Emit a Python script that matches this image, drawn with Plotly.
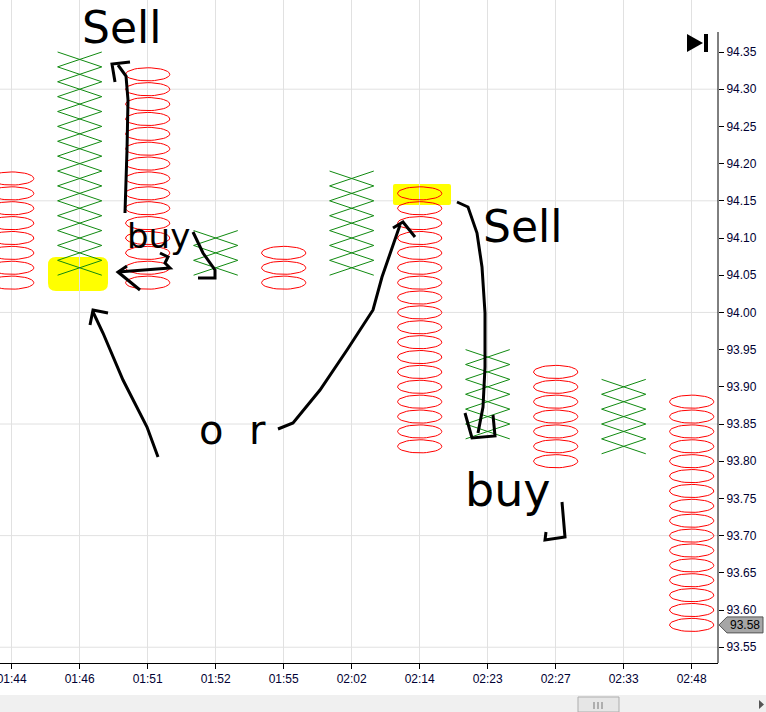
import numpy as np
import plotly.graph_objects as go

# ---------------- data ----------------
columns = ["01:44", "01:46", "01:51", "01:52", "01:55", "02:02",
           "02:14", "02:23", "02:27", "02:33", "02:48"]
col_type = ["O", "X", "O", "X", "O", "X", "O", "X", "O", "X", "O"]
col_high = [94.18, 94.34, 94.32, 94.10, 94.08, 94.18, 94.16, 93.94, 93.92, 93.90, 93.88]
col_low = [94.04, 94.06, 94.04, 94.06, 94.04, 94.06, 93.82, 93.84, 93.80, 93.82, 93.58]
box_size = 0.02
last_price = 93.58
y_tick_vals = [93.55, 93.60, 93.65, 93.70, 93.75, 93.80, 93.85, 93.90, 93.95,
               94.00, 94.05, 94.10, 94.15, 94.20, 94.25, 94.30, 94.35]
y_grid_vals = [93.55, 93.70, 93.85, 94.00, 94.15, 94.30]

# ---------------- geometry ----------------
W, H = 766, 712
ML, MR, MT, MB = 0, 48, 0, 49
PW, PH = W - ML - MR, H - MT - MB
X_RANGE = [-0.172, 10.387]
Y_RANGE = [93.5288, 94.4199]

def px(x):  # pixel -> paper x
    return (x - ML) / PW

def py(y):  # pixel -> paper y
    return 1 - (y - MT) / PH

# build marks
theta = np.linspace(0, 2 * np.pi, 41)
ox, oy, xx, xy = [], [], [], []
for i, (t, hi, lo) in enumerate(zip(col_type, col_high, col_low)):
    n = int(round((hi - lo) / box_size)) + 1
    for k in range(n):
        p = lo + k * box_size
        if t == "O":
            ox += list(i + 0.325 * np.cos(theta)) + [None]
            oy += list(p + 0.0088 * np.sin(theta)) + [None]
        else:
            h = box_size / 2
            xx += [i - 0.325, i + 0.325, None, i - 0.325, i + 0.325, None]
            xy += [p - h, p + h, None, p + h, p - h, None]

fig = go.Figure()
fig.add_trace(go.Scatter(x=ox, y=oy, mode="lines", line=dict(color="#ff0000", width=1),
                         hoverinfo="skip", showlegend=False))
fig.add_trace(go.Scatter(x=xx, y=xy, mode="lines", line=dict(color="#108a10", width=1),
                         hoverinfo="skip", showlegend=False))

shapes = []
# horizontal grid
for g in y_grid_vals:
    shapes.append(dict(type="line", xref="paper", yref="y", x0=0, x1=1, y0=g, y1=g,
                       line=dict(color="#e1e1e1", width=1), layer="below"))
# right axis line
shapes.append(dict(type="line", xref="paper", yref="paper", x0=1, x1=1, y0=0, y1=py(32),
                   line=dict(color="black", width=1)))

# yellow highlights
def blob(x0, y0, x1, y1, r=5):
    return ("M {a},{b} L {c},{b} Q {e},{b} {e},{f} L {e},{g} Q {e},{h} {c},{h} "
            "L {a},{h} Q {i},{h} {i},{g} L {i},{f} Q {i},{b} {a},{b} Z").format(
        a=px(x0 + r), b=py(y0), c=px(x1 - r), e=px(x1), f=py(y0 + r), g=py(y1 - r),
        h=py(y1), i=px(x0))

shapes.append(dict(type="path", xref="paper", yref="paper", path=blob(48, 257, 108, 291, 8),
                   fillcolor="#ffff00", line=dict(width=0), layer="between"))
shapes.append(dict(type="path", xref="paper", yref="paper", path=blob(393, 184, 451, 205, 2),
                   fillcolor="#ffff00", line=dict(width=0), layer="between"))

# hand-drawn strokes (pixel coordinates)
strokes = [
    # left vertical arrow up
    [(125, 213), (127, 150), (128, 100), (126, 76), (118, 65)],
    [(115, 82), (112, 64), (130, 62)],
    # "3"-like arrow pointing left to highlighted X
    [(160, 253), (168, 257), (165, 263), (170, 268), (118, 272)],
    [(127, 266), (118, 272), (140, 290)],
    # y tail of top buy
    [(193, 232), (203, 253), (215, 270), (215, 278), (198, 278)],
    # lower-left arrow from "or"
    [(158, 457), (147, 427), (123, 380), (103, 333), (93, 312)],
    [(90, 325), (93, 310), (108, 313)],
    # right arrow from "or"
    [(278, 429), (293, 423), (320, 390), (347, 350), (373, 310), (382, 277), (400, 225)],
    [(393, 228), (403, 222), (415, 237)],
    # long down line from 02:14 highlight
    [(457, 202), (468, 207), (477, 233), (482, 267), (485, 313), (485, 367), (483, 407), (478, 433)],
    [(465, 413), (472, 438), (495, 436), (493, 415)],
    # tail of lower buy
    [(562, 502), (565, 537), (545, 540), (546, 532)],
]
for s in strokes:
    path = "M " + " L ".join("{:.5f},{:.5f}".format(px(a), py(b)) for a, b in s)
    shapes.append(dict(type="path", xref="paper", yref="paper", path=path,
                       line=dict(color="black", width=3), layer="above"))

# play-to-end button
shapes.append(dict(type="path", xref="paper", yref="paper",
                   path="M {},{} L {},{} L {},{} Z".format(px(687), py(34), px(703), py(43), px(687), py(52)),
                   fillcolor="black", line=dict(width=0)))
shapes.append(dict(type="rect", xref="paper", yref="paper", x0=px(704), x1=px(708), y0=py(34), y1=py(52),
                   fillcolor="black", line=dict(width=0)))

# last price tag
lp_y = last_price
shapes.append(dict(type="path", xref="paper", yref="y",
                   path="M {},{} L {},{} L {},{} L {},{} L {},{} Z".format(
                       px(719), lp_y, px(727), lp_y + 8 / 745, px(763), lp_y + 8 / 745,
                       px(763), lp_y - 8 / 745, px(727), lp_y - 8 / 745),
                   fillcolor="#a6a6a6", line=dict(color="#555555", width=1)))

# scrollbar strip
shapes.append(dict(type="rect", xref="paper", yref="paper", x0=px(0), x1=px(766), y0=py(695), y1=py(712),
                   fillcolor="#f0f0f0", line=dict(width=0)))
shapes.append(dict(type="rect", xref="paper", yref="paper", x0=px(578), x1=px(619), y0=py(697), y1=py(712),
                   fillcolor="#e6e6e6", line=dict(color="#adadad", width=1)))
for gx in (594, 598, 602):
    shapes.append(dict(type="line", xref="paper", yref="paper", x0=px(gx), x1=px(gx), y0=py(702), y1=py(709),
                       line=dict(color="#777777", width=1)))
shapes.append(dict(type="path", xref="paper", yref="paper",
                   path="M {},{} L {},{} L {},{} Z".format(px(759), py(700), px(764), py(704.5), px(759), py(709)),
                   fillcolor="#555555", line=dict(width=0)))

hand_font = "DejaVu Sans"
annotations = [
    dict(text="Sell", x=px(122), y=py(0), yanchor="top", font=dict(size=44, family=hand_font, color="black")),
    dict(text="buy", x=px(158), y=py(236), font=dict(size=34, family=hand_font, color="black")),
    dict(text="o  r", x=px(232), y=py(430), font=dict(size=40, family=hand_font, color="black")),
    dict(text="Sell", x=px(522), y=py(226), font=dict(size=44, family=hand_font, color="black")),
    dict(text="buy", x=px(508), y=py(490), font=dict(size=46, family=hand_font, color="black")),
    dict(text="93.58", x=px(745), y=last_price, yref="y",
         font=dict(size=12, family="Liberation Sans, Arial", color="black")),
]
for a in annotations:
    a.setdefault("xref", "paper")
    a.setdefault("yref", "paper")
    a.setdefault("yanchor", "middle")
    a.update(showarrow=False, xanchor="center")

fig.update_layout(
    width=W, height=H,
    margin=dict(l=ML, r=MR, t=MT, b=MB, autoexpand=False),
    paper_bgcolor="white", plot_bgcolor="white",
    font=dict(family="Liberation Sans, Arial", size=12, color="black"),
    showlegend=False,
    hovermode=False,
    shapes=shapes,
    annotations=annotations,
    xaxis=dict(range=X_RANGE, tickvals=list(range(len(columns))), ticktext=columns,
               showgrid=True, gridcolor="#e1e1e1", gridwidth=1, zeroline=False,
               showline=True, linecolor="black", linewidth=1,
               ticks="outside", ticklen=5, tickcolor="black", ticklabeloverflow="allow",
               automargin=False,
               tickfont=dict(size=12, color="#000033")),
    yaxis=dict(range=Y_RANGE, side="right", tickvals=y_tick_vals,
               ticktext=["{:.2f}".format(v) for v in y_tick_vals],
               showgrid=False, zeroline=False, showline=False, automargin=False,
               ticks="outside", ticklen=5, tickcolor="black", ticklabeloverflow="allow",
               tickfont=dict(size=12, color="#000033")),
)

fig.write_html("out.html", config={"displayModeBar": False},
               post_script="document.body.style.margin='0';document.body.style.overflow='hidden';")
